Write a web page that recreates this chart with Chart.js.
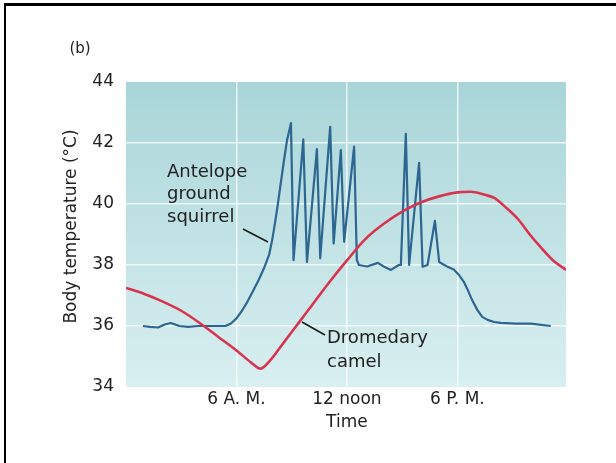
<!DOCTYPE html>
<html>
<head>
<meta charset="utf-8">
<title>Body temperature – camel vs antelope ground squirrel</title>
<script src="https://cdn.jsdelivr.net/npm/chart.js@4/dist/chart.umd.min.js"></script>
<style>
  html, body { margin: 0; padding: 0; background: #fff; }
  #wrap { width: 616px; height: 463px; position: relative; }
</style>
</head>
<body>
<div id="wrap"><canvas id="tempChart" width="616" height="463"></canvas></div>
<script>
'use strict';

// ----- data (hours after midnight, °C) -----
const tickHours = [6, 12, 18];
const tickLabels = ['6 A. M.', '12 noon', '6 P. M.'];
const yTicks = [34, 36, 38, 40, 42, 44];

const squirrelHours = [
  0.92, 1.3, 1.74, 2.1, 2.44, 2.9, 3.37, 3.9, 4.45, 5.0, 5.4, 5.7, 6.0, 6.3, 6.6,
  6.9, 7.2, 7.5, 7.78, 7.95, 8.1, 8.25, 8.41, 8.6, 8.75, 8.96, 9.1, 9.63, 9.83, 10.37, 10.55, 11.09,
  11.28, 11.67, 11.85, 12.39, 12.54, 12.65, 13.1, 13.68, 14.0, 14.39, 14.82, 14.93,
  15.2, 15.38, 15.92, 16.11, 16.38, 16.78, 17.01, 17.47, 17.8, 18.09, 18.35, 18.55, 18.8,
  19.09, 19.35, 19.64, 20.0, 20.36, 21.2, 21.99, 23.07
];
const squirrelTemps = [
  36.0, 35.97, 35.95, 36.05, 36.1, 36.0, 35.97, 36.0, 36.0, 36.0, 36.0, 36.08, 36.25, 36.5, 36.8,
  37.15, 37.5, 37.9, 38.35, 38.85, 39.4, 40.0, 40.7, 41.5, 42.1, 42.65, 38.16, 42.12, 38.1, 41.8, 38.22, 42.53,
  38.71, 41.77, 38.76, 41.88, 38.16, 38.0, 37.95, 38.07, 37.95, 37.84, 38.0, 38.0,
  42.3, 38.0, 41.35, 37.94, 38.0, 39.45, 38.1, 37.94, 37.85, 37.67, 37.45, 37.2, 36.85,
  36.52, 36.3, 36.2, 36.13, 36.1, 36.08, 36.08, 36.0
];

const camelHours = [
  0, 1, 2, 3, 4, 5, 6, 6.8, 7.3, 7.8, 8.5, 9.5, 10, 11, 12, 13, 14, 15, 16, 17, 18,
  18.7, 19.5, 20, 20.7, 21.3, 22, 22.5, 23.2, 23.9
];
const camelTemps = [
  37.25, 37.05, 36.8, 36.5, 36.1, 35.65, 35.2, 34.8, 34.6, 34.85, 35.4, 36.2, 36.6, 37.4, 38.15,
  38.85, 39.35, 39.75, 40.05, 40.25, 40.38, 40.4, 40.3, 40.2, 39.85, 39.5, 38.95, 38.6, 38.15, 37.84
];

const toPoints = (xs, ys) => xs.map((x, i) => ({ x: x, y: ys[i] }));

const FONT = "'DejaVu Sans', 'Liberation Sans', sans-serif";
const INK = '#222';

/* ----------------------------------------------------------
   背景グラデーション + 枠 + 注記（プラグイン）
   ---------------------------------------------------------- */
const backdrop = {
  id: 'backdrop',
  beforeDraw(chart) {
    const { ctx, chartArea: a } = chart;
    const g = ctx.createLinearGradient(0, a.top, 0, a.bottom);
    g.addColorStop(0, '#a9d5d8');
    g.addColorStop(1, '#d9eff1');
    ctx.save();
    ctx.fillStyle = g;
    ctx.fillRect(a.left, a.top, a.right - a.left, a.bottom - a.top);
    ctx.restore();
  },
  afterDraw(chart) {
    const { ctx, chartArea: a } = chart;
    const x = chart.scales.x;
    ctx.save();
    // frame (top + left only, the rest is cropped in the original)
    ctx.fillStyle = '#000';
    ctx.fillRect(4, 3, 616, 3);
    ctx.fillRect(4, 3, 2, 463);

    ctx.fillStyle = INK;
    ctx.textBaseline = 'middle';
    ctx.textAlign = 'center';
    ctx.font = '15px ' + FONT;
    ctx.fillText('(b)', 80, 49);

    ctx.font = '17px ' + FONT;
    ctx.fillText('Time', x.getPixelForValue(12), 423);

    ctx.save();
    ctx.translate(72, (a.top + a.bottom) / 2 - 8);
    ctx.rotate(-Math.PI / 2);
    ctx.fillText('Body temperature (\u00B0C)', 0, 0);
    ctx.restore();

    // series labels
    ctx.textAlign = 'left';
    ctx.font = '18px ' + FONT;
    ['Antelope', 'ground', 'squirrel'].forEach((s, i) => ctx.fillText(s, 167, 172 + i * 22.5));
    ['Dromedary', 'camel'].forEach((s, i) => ctx.fillText(s, 327, 338 + i * 24));

    // leader lines
    ctx.strokeStyle = '#1a1a1a';
    ctx.lineWidth = 1.6;
    ctx.beginPath();
    ctx.moveTo(243, 229);
    ctx.lineTo(268, 242);
    ctx.moveTo(302, 322);
    ctx.lineTo(325, 335);
    ctx.stroke();
    ctx.restore();
  }
};

/* ----------------------------------------------------------
   体温グラフ（折れ線）
   ---------------------------------------------------------- */
const tempCtx = document.getElementById('tempChart');
new Chart(tempCtx, {
  type: 'line',
  data: {
    datasets: [
      {
        label: 'Dromedary camel',
        data: toPoints(camelHours, camelTemps),
        borderColor: '#d8344f',
        borderWidth: 2.6,
        pointRadius: 0,
        cubicInterpolationMode: 'monotone',
        fill: false,
      },
      {
        label: 'Antelope ground squirrel',
        data: toPoints(squirrelHours, squirrelTemps),
        borderColor: '#2d6690',
        borderWidth: 2.2,
        pointRadius: 0,
        tension: 0,
        borderJoinStyle: 'round',
        fill: false,
      }
    ]
  },
  options: {
    responsive: false,
    animation: false,
    layout: { padding: { top: 82, right: 50, left: 0, bottom: 0 } },
    plugins: {
      legend: { display: false },
      tooltip: { enabled: false }
    },
    scales: {
      x: {
        type: 'linear',
        min: 0,
        max: 23.9,
        afterBuildTicks: s => { s.ticks = tickHours.map(v => ({ value: v })); },
        afterFit: s => { s.height = 76; },
        ticks: {
          padding: 2,
          color: INK,
          font: { family: FONT, size: 17 },
          callback: v => tickLabels[tickHours.indexOf(v)]
        },
        grid: { color: 'rgba(255,255,255,0.75)', lineWidth: 1.5, drawTicks: false },
        border: { display: false }
      },
      y: {
        min: 34,
        max: 44,
        afterBuildTicks: s => { s.ticks = yTicks.map(v => ({ value: v })); },
        afterFit: s => { s.width = 126; },
        ticks: {
          padding: 12,
          color: INK,
          font: { family: FONT, size: 17 }
        },
        grid: {
          color: c => (c.tick && (c.tick.value === 34 || c.tick.value === 44)) ? 'rgba(0,0,0,0)' : 'rgba(255,255,255,0.75)',
          lineWidth: 1.5,
          drawTicks: false
        },
        border: { display: false }
      }
    }
  },
  plugins: [backdrop]
});
</script>
</body>
</html>
